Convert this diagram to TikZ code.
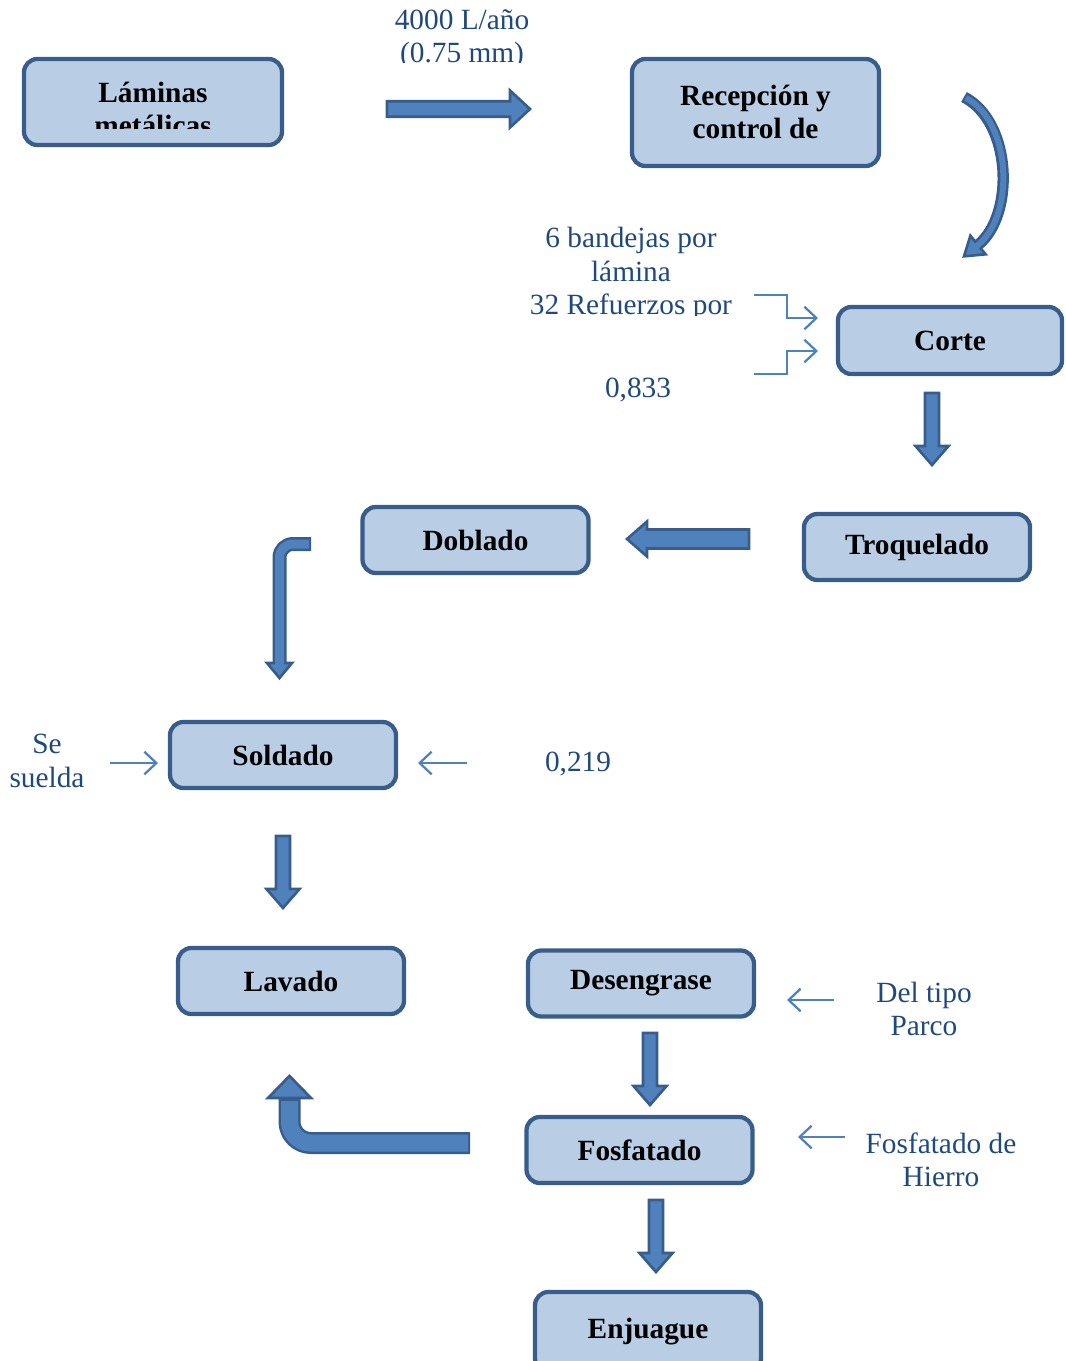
\documentclass[tikz,border=0pt]{standalone}
\usepackage{fontspec}
\setmainfont{Liberation Serif}
\usetikzlibrary{arrows.meta}
\definecolor{boxfill}{RGB}{185,205,229}
\definecolor{boxline}{RGB}{56,93,138}
\definecolor{arrfill}{RGB}{79,129,189}
\definecolor{lblcol}{RGB}{31,73,125}
\tikzset{
  procbox/.style={draw=boxline, fill=boxfill, line width=3.2pt, rounded corners=10pt, inner sep=0pt,
    minimum width=169.5pt, minimum height=49.5pt, align=center, text=black,
    font=\fontsize{22}{25}\selectfont\bfseries},
  boxtxt/.style={inner sep=0pt, align=center, text=black, font=\fontsize{22}{25}\selectfont\bfseries},
  lbltext/.style={inner sep=0pt, align=center, text=lblcol, font=\fontsize{22}{25}\selectfont},
  thinarrow/.style={draw=arrfill, line width=1.7pt, -{Straight Barb[length=9pt,width=17pt]}},
  blockarrow/.style={draw=boxline, fill=arrfill, line width=2pt, line join=miter},
  shaftout/.style={draw=boxline, line cap=butt, line join=round},
  shaftin/.style={draw=arrfill, line cap=butt, line join=round},
  pics/barrow/.style args={#1/#2/#3/#4}{code={
    \path[blockarrow] (0,-#2) -- ({#1-#4},-#2) -- ({#1-#4},-#3) -- (#1,0) -- ({#1-#4},#3) -- ({#1-#4},#2) -- (0,#2) -- cycle;}}
}
\begin{document}
\begin{tikzpicture}[x=0.75pt,y=-0.75pt]
\useasboundingbox (0,0) rectangle (1066,1361);

% ---------- process boxes ----------
\node[procbox, minimum width=193.5pt, minimum height=64.5pt] (lam) at (153,102) {};
\begin{scope}
  \clip (30,60) rectangle (280,128);
  \node[boxtxt] (lamtxt) at (153,109) {Láminas\\metálicas};
\end{scope}
\node[procbox, minimum width=185.25pt, minimum height=80.25pt] (rec) at (755.5,112.5) {\raisebox{1.5pt}{Recepción y}\\\raisebox{1.5pt}{control de}};
\node[procbox, minimum width=168pt, minimum height=50.25pt] (corte) at (950,340.5) {Corte};
\node[procbox] (troq) at (917,547) {Troquelado};
\node[procbox] (dobl) at (475.5,540) {Doblado};
\node[procbox] (sold) at (283,755) {Soldado};
\node[procbox] (lav) at (291,981) {Lavado};
\node[procbox] (des) at (641,983.5) {Desengrase};
\node[procbox] (fos) at (639.5,1150) {Fosfatado};
\node[procbox, minimum height=60pt] (enj) at (648,1332) {\raisebox{3.75pt}{Enjuague}};

% ---------- labels ----------
\begin{scope}
  \clip (380,0) rectangle (560,62);
  \node[lbltext] (l1) at (462,39) {4000 L/año\\(0.75 mm)};
\end{scope}
\begin{scope}
  \clip (500,215) rectangle (760,315);
  \node[lbltext] (l2) at (631,274) {6 bandejas por\\lámina\\32 Refuerzos por};
\end{scope}
\node[lbltext] (l3) at (638,390) {0,833};
\node[lbltext] (l4) at (47,761) {Se\\suelda};
\node[lbltext] (l5) at (578,764) {0,219};
\node[lbltext] (l6) at (924,1009) {Del tipo\\Parco};
\node[lbltext] (l7) at (941,1160) {Fosfatado de\\Hierro};

% ---------- thin arrows ----------
\coordinate (t1s) at (110,763);  \coordinate (t1e) at (158,763);
\coordinate (t2s) at (467,763);  \coordinate (t2e) at (418,763);
\coordinate (t3s) at (834,1000); \coordinate (t3e) at (787,1000);
\coordinate (t4s) at (845,1137); \coordinate (t4e) at (798,1137);
\draw[thinarrow] (t1s) -- (t1e);
\draw[thinarrow] (t2s) -- (t2e);
\draw[thinarrow] (t3s) -- (t3e);
\draw[thinarrow] (t4s) -- (t4e);
\coordinate (k1s) at (754,295); \coordinate (k1e) at (818,318);
\coordinate (k2s) at (754,374); \coordinate (k2e) at (818,351);
\draw[thinarrow] (k1s) -- (787,295) -- (787,318) -- (k1e);
\draw[thinarrow] (k2s) -- (787,374) -- (787,351) -- (k2e);

% ---------- straight block arrows ----------
\coordinate (a1) at (387,109);
\coordinate (a2) at (932,393);
\coordinate (a3) at (749,539);
\coordinate (a4) at (283,836);
\coordinate (a5) at (650,1033);
\coordinate (a6) at (656,1200);
\pic at (a1) {barrow=143/7.8/18.5/20};
\pic[rotate=-90] at (a2) {barrow=72/7/16.5/19};
\pic[rotate=180] at (a3) {barrow=122/9.5/17.5/20};
\pic[rotate=-90] at (a4) {barrow=72/7/16.5/19};
\pic[rotate=-90] at (a5) {barrow=72/7/16.5/19};
\pic[rotate=-90] at (a6) {barrow=72/7/16.5/19};

% ---------- bent arrow Doblado -> Soldado ----------
\coordinate (b1s) at (311,544);
\coordinate (b1c) at (279.5,544);
\coordinate (b1e) at (279.5,663);
\draw[shaftout, line width=10.5pt, rounded corners=10pt] (b1s) -- (b1c) -- (b1e);
\path[blockarrow] (267,663) -- (279.5,678) -- (292,663) -- cycle;
\draw[shaftin, line width=6.75pt, rounded corners=10pt, shorten <=1.5pt] (b1s) -- (b1c) -- (279.5,666);

% ---------- U arrow Fosfatado -> Lavado ----------
\coordinate (u1s) at (470,1143);
\coordinate (u1c) at (289.5,1143);
\coordinate (u1e) at (289.5,1098);
\draw[shaftout, line width=16.5pt, rounded corners=16pt] (u1s) -- (u1c) -- (u1e);
\path[blockarrow] (268,1098) -- (289.5,1076) -- (311,1098) -- cycle;
\draw[shaftin, line width=12.75pt, rounded corners=16pt, shorten <=1.5pt] (u1s) -- (u1c) -- (289.5,1101);

% ---------- curved arrow Recepcion -> Corte ----------
\coordinate (c1s) at (964,97);
\coordinate (c1e) at (978,245);
\draw[shaftout, line width=8.5pt] (c1s) .. controls (1012,122) and (1015,215) .. (c1e);
\path[blockarrow] (985.6,254.3) -- (964,256.3) -- (970.4,235.7) -- cycle;
\draw[shaftin, line width=4.5pt, shorten <=1.5pt] (c1s) .. controls (1012,122) and (1015,215) .. (c1e) -- (975.7,246.9);
\end{tikzpicture}
\end{document}
